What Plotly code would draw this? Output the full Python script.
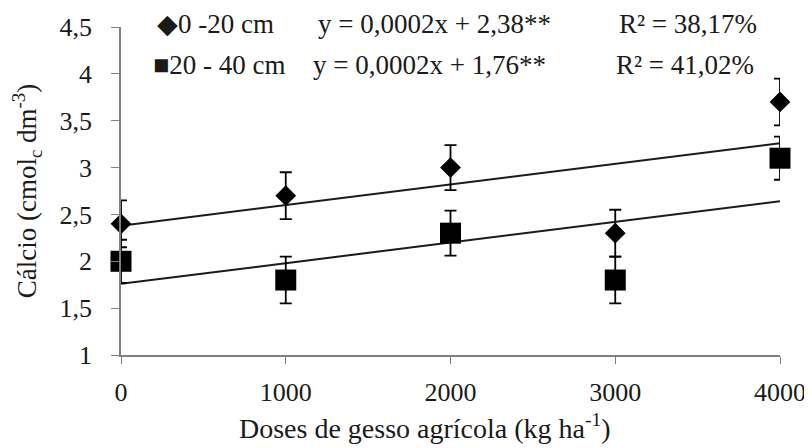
import numpy as np
import plotly.graph_objects as go

doses = [0, 1000, 2000, 3000, 4000]
ca_0_20 = [2.4, 2.7, 3.0, 2.3, 3.7]
ca_20_40 = [2.0, 1.8, 2.3, 1.8, 3.1]
err_0_20 = [0.25, 0.25, 0.24, 0.25, 0.25]
err_20_40 = [0.23, 0.25, 0.24, 0.25, 0.23]

series_names = ["0 -20 cm", "20 - 40 cm"]
equations = ["y = 0,0002x + 2,38**", "y = 0,0002x + 1,76**"]
r2_labels = ["R² = 38,17%", "R² = 41,02%"]
symbols_txt = ["◆", "■"]

y_ticks = [1, 1.5, 2, 2.5, 3, 3.5, 4, 4.5]
y_ticktext = ["1", "1,5", "2", "2,5", "3", "3,5", "4", "4,5"]
x_ticks = [0, 1000, 2000, 3000, 4000]
x_title = "Doses de gesso agrícola (kg ha<sup>-1</sup>)"
y_title = "Cálcio (cmol<sub>c</sub> dm<sup>-3</sup>)"

FONT = "Liberation Serif"
TXT = "#1a1a1a"

fig = go.Figure()

for ys, errs, sym, size in [(ca_0_20, err_0_20, "diamond", 16), (ca_20_40, err_20_40, "square", 21)]:
    coef = np.polyfit(doses, ys, 1)
    xl = np.array([min(doses), max(doses)])
    fig.add_trace(go.Scatter(x=xl, y=np.polyval(coef, xl), mode="lines",
                             line=dict(color="#1a1a1a", width=2), showlegend=False,
                             hoverinfo="skip", cliponaxis=False))
    fig.add_trace(go.Scatter(x=doses, y=ys, mode="markers",
                             marker=dict(symbol=sym, size=size, color="black"),
                             error_y=dict(type="data", array=errs, color="black",
                                          thickness=1.8, width=6),
                             showlegend=False, cliponaxis=False))

row_y = [1.008, 0.885]
sym_x = [0.052, 0.046]
eq_x = [0.296, 0.288]
r2_x = [0.753, 0.748]
for i in range(2):
    fig.add_annotation(xref="paper", yref="paper", x=sym_x[i], y=row_y[i], xanchor="left",
                       yanchor="middle", text=symbols_txt[i] + series_names[i], showarrow=False,
                       font=dict(family=FONT, size=27, color=TXT))
    fig.add_annotation(xref="paper", yref="paper", x=eq_x[i], y=row_y[i],
                       xanchor="left", yanchor="middle", text=equations[i], showarrow=False,
                       font=dict(family=FONT, size=27, color=TXT))
    fig.add_annotation(xref="paper", yref="paper", x=r2_x[i], y=row_y[i],
                       xanchor="left", yanchor="middle", text=r2_labels[i], showarrow=False,
                       font=dict(family=FONT, size=27, color=TXT))

# x-axis title, placed slightly left of centre as in the reference
fig.add_annotation(xref="paper", yref="paper", x=0.461, y=-0.218, xanchor="center",
                   yanchor="middle", text=x_title, showarrow=False,
                   font=dict(family=FONT, size=28, color=TXT))

# the page body has an 8px margin, so the figure is 8px smaller than the window
fig.update_layout(
    width=804, height=440,
    margin=dict(l=113, r=32, t=19, b=93),
    paper_bgcolor="white", plot_bgcolor="white",
    font=dict(family=FONT, size=26, color=TXT),
    xaxis=dict(range=[0, 4000], tickvals=x_ticks, ticks="outside", ticklen=7,
               tickcolor="#808080", showline=True, linecolor="#808080", linewidth=1.5,
               showgrid=False, zeroline=False, ticklabelstandoff=6, automargin=False,
               tickfont=dict(family=FONT, size=26, color=TXT)),
    yaxis=dict(range=[1, 4.5], tickvals=y_ticks, ticktext=y_ticktext, ticks="outside",
               ticklen=8, tickcolor="#808080", showline=True, linecolor="#808080", linewidth=1.5,
               showgrid=False, zeroline=False, ticklabelstandoff=14, automargin=False,
               tickfont=dict(family=FONT, size=26, color=TXT),
               title=dict(text=y_title, standoff=17,
                          font=dict(family=FONT, size=27, color=TXT))),
)

fig.write_html("out.html")
